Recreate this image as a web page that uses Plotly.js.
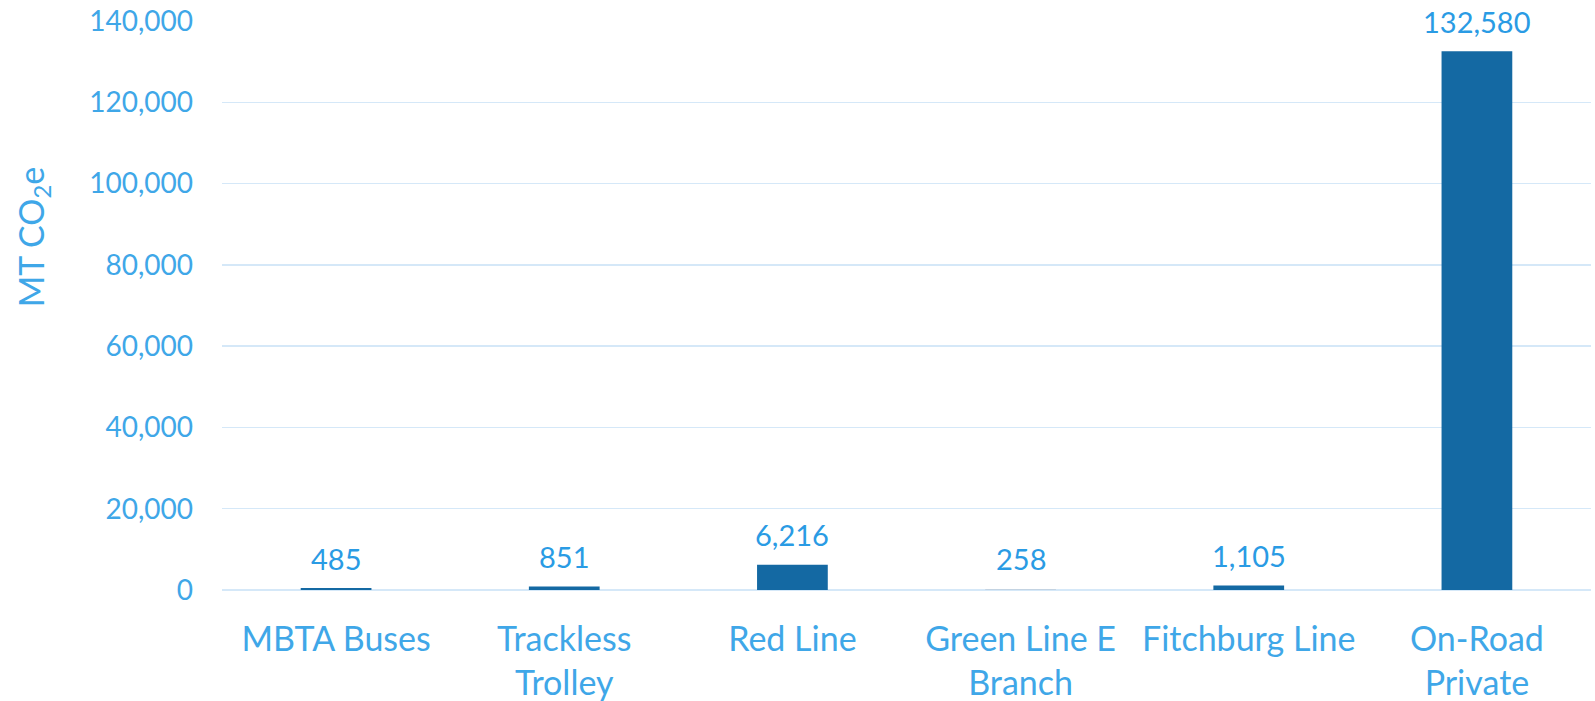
<!DOCTYPE html>
<html>
<head>
<meta charset="utf-8">
<script src="https://cdn.plot.ly/plotly-3.0.1.min.js"></script>
<style>html,body{margin:0;padding:0;background:#fff;}#chart{width:1595px;height:701px;}</style>
</head>
<body>
<div id="chart"></div>
<script>
const categories = ["MBTA Buses", "Trackless<br>Trolley", "Red Line", "Green Line E<br>Branch", "Fitchburg Line", "On-Road<br>Private"];
const values = [485, 851, 6216, 258, 1105, 132580];
const barColors = ["#1469A3", "#1469A3", "#1469A3", "#C3D3E2", "#1469A3", "#1469A3"];
const yTickVals = [0, 20000, 40000, 60000, 80000, 100000, 120000, 140000];

const fontFam = "Lato, 'Open Sans', sans-serif";
const tickColor = "#3FA7E8";
const labelColor = "#2A9BE4";

const trace = {
  type: "bar",
  x: categories,
  y: values,
  marker: { color: barColors },
  hoverinfo: "none"
};

const annotations = categories.map((c, i) => ({
  x: c, y: values[i], xref: "x", yref: "y",
  text: values[i].toLocaleString("en-US"),
  showarrow: false, yanchor: "middle", yshift: 30,
  font: { family: fontFam, size: 29, color: labelColor }
}));
annotations.push({
  xref: "paper", yref: "paper", x: -0.138, y: 0.62,
  xanchor: "center", yanchor: "middle",
  text: "MT CO<sub>2</sub>e", textangle: -90, showarrow: false,
  font: { family: fontFam, size: 34, color: tickColor }
});

const layout = {
  width: 1595, height: 701,
  margin: { l: 222, r: 4, t: 21, b: 111 },
  paper_bgcolor: "#fff", plot_bgcolor: "#fff",
  bargap: 0.69,
  showlegend: false,
  xaxis: {
    type: "category",
    tickfont: { family: fontFam, size: 34, color: tickColor },
    showgrid: false, showline: false, zeroline: false,
    ticks: "", ticklabelstandoff: 26
  },
  yaxis: {
    range: [0, 140000],
    tickvals: yTickVals,
    tickformat: ",d",
    tickfont: { family: fontFam, size: 28, color: tickColor },
    showgrid: true, gridcolor: "#D5E8F8", gridwidth: 1.5,
    zeroline: true, zerolinecolor: "#D5E8F8", zerolinewidth: 1.5,
    showline: false, ticks: "", ticklabelstandoff: 28
  },
  annotations: annotations
};

Plotly.newPlot("chart", [trace], layout, { staticPlot: true, displayModeBar: false });
</script>
</body>
</html>
